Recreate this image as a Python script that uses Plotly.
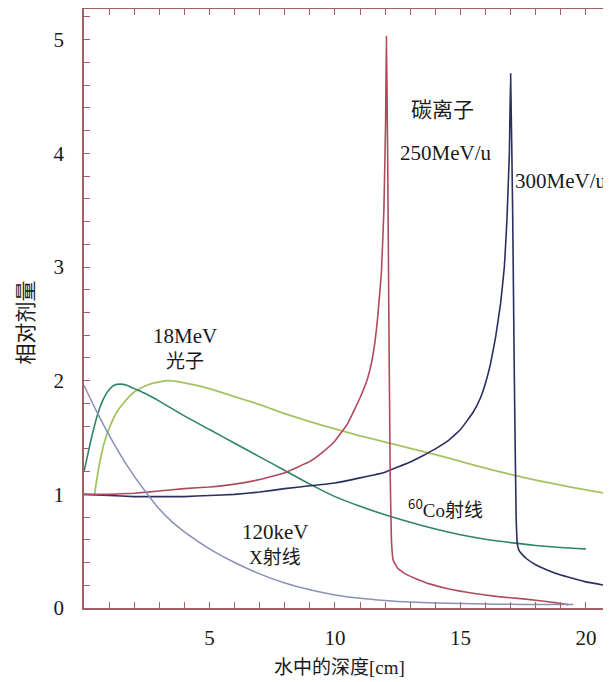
import plotly.graph_objects as go

# ---- data ----
c250_x = [0, 1, 2, 3, 4, 5, 6, 7, 8, 9, 9.5, 10, 10.5, 11, 11.3, 11.45, 11.6, 11.7, 11.85, 11.95, 12.02, 12.05,
          12.1, 12.15, 12.2, 12.25, 12.32, 12.5, 12.8, 13.2, 13.8, 14.5, 15.5, 16.5, 17.5, 18.5, 19.0, 19.3]
c250_y = [1.0, 1.0, 1.01, 1.03, 1.05, 1.065, 1.09, 1.13, 1.19, 1.29, 1.37, 1.47, 1.62, 1.85, 2.02, 2.15, 2.35, 2.55, 2.95, 3.5, 4.3, 5.03,
          4.0, 2.5, 1.2, 0.6, 0.42, 0.35, 0.3, 0.26, 0.21, 0.17, 0.13, 0.1, 0.08, 0.055, 0.04, 0.03]

c300_x = [0, 1, 2, 3, 4, 5, 6, 7, 8, 9, 10, 11, 12, 12.5, 13, 13.5, 14, 14.5, 15, 15.5, 15.8, 16, 16.2, 16.4, 16.6, 16.75,
          16.85, 16.95, 17.0, 17.08, 17.15, 17.22, 17.27, 17.35, 17.6, 18, 18.5, 19, 19.5, 20, 20.5, 21]
c300_y = [1.0, 0.99, 0.98, 0.98, 0.98, 0.99, 1.0, 1.02, 1.05, 1.075, 1.1, 1.145, 1.195, 1.24, 1.285, 1.34, 1.4, 1.47, 1.57, 1.72, 1.85, 1.98, 2.15, 2.38, 2.68, 3.0,
          3.4, 4.0, 4.7, 3.5, 2.0, 0.8, 0.56, 0.5, 0.44, 0.38, 0.33, 0.29, 0.26, 0.23, 0.21, 0.19]

co60_x = [0, 0.15, 0.3, 0.55, 0.8, 1.0, 1.2, 1.45, 1.7, 2.0, 2.5, 3, 4, 5, 6, 7, 8, 9, 10, 11, 12, 13, 14, 15, 16, 17, 18, 19, 20]
co60_y = [1.2, 1.35, 1.5, 1.71, 1.85, 1.92, 1.96, 1.97, 1.96, 1.93, 1.88, 1.82, 1.69, 1.57, 1.45, 1.33, 1.21, 1.09, 0.98,
          0.895, 0.82, 0.755, 0.695, 0.645, 0.605, 0.575, 0.55, 0.532, 0.52]

ph18_x = [0.42, 0.6, 0.8, 1.0, 1.3, 1.6, 2.0, 2.5, 3.0, 3.4, 4.0, 5.0, 6.0, 7.0, 8.0, 9.0, 10.0, 11.0, 12.0, 13.0, 14.0,
          15.0, 16.0, 17.0, 18.0, 19.0, 20.0, 21.0]
ph18_y = [1.0, 1.25, 1.45, 1.58, 1.72, 1.81, 1.9, 1.96, 1.99, 2.0, 1.98, 1.93, 1.86, 1.79, 1.71, 1.64, 1.575, 1.515, 1.46,
          1.405, 1.35, 1.29, 1.23, 1.175, 1.125, 1.08, 1.04, 1.0]

xr_x = [0, 0.5, 1, 1.5, 2, 2.5, 3, 3.5, 4, 5, 6, 7, 8, 9, 10, 11, 12, 13, 14, 15, 16, 17, 18, 19, 19.5]
xr_y = [1.96, 1.73, 1.52, 1.33, 1.16, 1.01, 0.87, 0.76, 0.67, 0.52, 0.40, 0.30, 0.22, 0.16, 0.115, 0.085, 0.065, 0.052,
        0.045, 0.04, 0.035, 0.032, 0.03, 0.03, 0.03]

x_ticks = [5, 10, 15, 20]
y_ticks = [0, 1, 2, 3, 4, 5]

FRAME = "#a0605f"
SERIF = "Liberation Serif, Times New Roman, serif"
CJK = "Noto Sans CJK SC"
TXT = "#1a1a1a"
Y_MAX = 5.27

fig = go.Figure()
# X-ray trace is drawn on the overlaid (top/right) axes, which share identical ranges, so those axes get rendered
fig.add_trace(go.Scatter(x=xr_x, y=xr_y, mode="lines", xaxis="x2", yaxis="y2",
                         line=dict(color="#8b8fb5", width=1.5, shape="spline", smoothing=0.6)))
fig.add_trace(go.Scatter(x=ph18_x, y=ph18_y, mode="lines", line=dict(color="#a2c463", width=1.8, shape="spline", smoothing=0.6)))
fig.add_trace(go.Scatter(x=co60_x, y=co60_y, mode="lines", line=dict(color="#2e8468", width=1.6, shape="spline", smoothing=0.6)))
fig.add_trace(go.Scatter(x=c300_x, y=c300_y, mode="lines", line=dict(color="#2c2f5e", width=1.6, shape="spline", smoothing=0.3)))
fig.add_trace(go.Scatter(x=c250_x, y=c250_y, mode="lines", line=dict(color="#b04a5a", width=1.6, shape="spline", smoothing=0.3)))

def ann(x, y, text, font, size=21, xanchor="center"):
    fig.add_annotation(x=x, y=y, text=text, showarrow=False, xanchor=xanchor, yanchor="middle",
                       font=dict(family=font, size=size, color=TXT))

ann(14.28, 4.40, "碳离子", CJK, 21)
ann(14.4, 4.0, "250MeV/u", SERIF, 21)
ann(17.1, 3.76, "300MeV/u", SERIF, 21, xanchor="left")
ann(4.04, 2.39, "18MeV", SERIF, 21)
ann(4.04, 2.19, "光子", CJK, 19)
ann(14.4, 0.88, "<sup>60</sup><span style='font-family:Liberation Serif'>Co</span>射线", CJK, 19)
ann(7.63, 0.67, "120keV", SERIF, 21)
ann(7.63, 0.46, "<span style='font-family:Liberation Serif'>X</span>射线", CJK, 19)

fig.add_annotation(x=0.5, y=0, xref="paper", yref="paper", yshift=-57, xshift=-8,
                   text="水中的深度<span style='font-family:Liberation Serif'>[cm]</span>",
                   showarrow=False, xanchor="center", yanchor="middle",
                   font=dict(family=CJK, size=19, color=TXT))
fig.add_annotation(x=0, y=0.5, xref="paper", yref="paper", xshift=-61, yshift=-14, text="相对剂量", textangle=-90,
                   showarrow=False, xanchor="center", yanchor="middle",
                   font=dict(family=CJK, size=21, color=TXT))

tick_common = dict(ticks="inside", ticklen=6, tickcolor=FRAME, tickwidth=1.2, showgrid=False, zeroline=False,
                   automargin=False)
line_common = dict(showline=True, linecolor=FRAME, linewidth=1.5)

fig.update_layout(
    xaxis=dict(range=[0, 21], tickmode="array", tickvals=x_ticks, ticktext=[str(v) for v in x_ticks],
               ticklabelstandoff=10, tickfont=dict(family=SERIF, size=21, color=TXT),
               minor=dict(dtick=1, tick0=0, ticks="inside", ticklen=6, tickcolor=FRAME, tickwidth=1.2, showgrid=False),
               **tick_common, **line_common),
    yaxis=dict(range=[0, Y_MAX], tickmode="array", tickvals=y_ticks, ticktext=[str(v) for v in y_ticks],
               ticklabelstandoff=14, tickfont=dict(family=SERIF, size=21, color=TXT),
               minor=dict(dtick=0.2, tick0=0, ticks="inside", ticklen=6, tickcolor=FRAME, tickwidth=1.2, showgrid=False),
               **tick_common, **line_common),
    xaxis2=dict(range=[0, 21], overlaying="x", side="top", anchor="y2", showticklabels=False,
                tickmode="linear", dtick=1, tick0=0, **tick_common, **line_common),
    yaxis2=dict(range=[0, Y_MAX], overlaying="y", side="right", anchor="x2", showticklabels=False,
                tickmode="linear", dtick=0.2, tick0=0, **tick_common, **line_common),
    # page body has an 8px default margin, so margins are offset to place the plot area as in the reference
    width=611, height=682, margin=dict(l=76, r=8, t=1, b=82),
    plot_bgcolor="white", paper_bgcolor="white", showlegend=False)

fig.write_html("out.html")
